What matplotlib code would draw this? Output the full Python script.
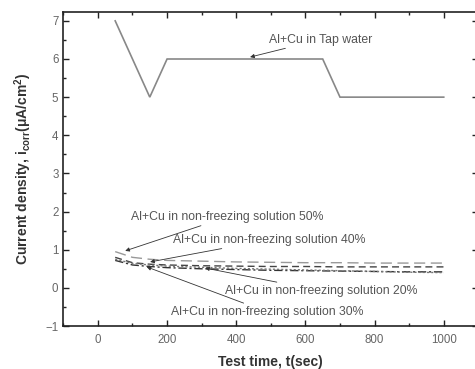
import matplotlib
matplotlib.use("Agg")
import matplotlib.pyplot as plt
from matplotlib.ticker import MultipleLocator

plt.rcParams['font.family'] = ['Liberation Sans', 'DejaVu Sans']

# Data
t_tap = [50, 150, 200, 650, 700, 1000]
i_tap = [7.0, 5.0, 6.0, 6.0, 5.0, 5.0]

t_nf = [50, 100, 150, 200, 300, 400, 500, 600, 700, 800, 900, 1000]
i_50 = [0.95, 0.80, 0.75, 0.72, 0.70, 0.68, 0.67, 0.66, 0.66, 0.65, 0.65, 0.65]
i_40 = [0.80, 0.66, 0.62, 0.60, 0.58, 0.57, 0.56, 0.56, 0.55, 0.55, 0.55, 0.55]
i_30 = [0.72, 0.60, 0.56, 0.53, 0.50, 0.48, 0.46, 0.45, 0.44, 0.43, 0.42, 0.42]
i_20 = [0.75, 0.64, 0.60, 0.57, 0.54, 0.51, 0.49, 0.47, 0.45, 0.43, 0.41, 0.40]

fig = plt.figure(figsize=(4.75, 3.69), dpi=100)
ax = fig.add_axes([0.1333, 0.1165, 0.8737, 0.8518])

ax.plot(t_tap, i_tap, color='#888888', lw=1.2, solid_joinstyle='miter')
ax.plot(t_nf, i_50, color='#999999', lw=1.0, dashes=(8, 4))
ax.plot(t_nf, i_40, color='#444444', lw=1.0, dashes=(5, 3))
ax.plot(t_nf, i_30, color='#333333', lw=1.0, dashes=(6, 2, 1.5, 2))
ax.plot(t_nf, i_20, color='#777777', lw=1.0, dashes=(1.5, 1.5))

ax.set_xlim(-100, 1100)
ax.set_ylim(-1, 7.24)
ax.xaxis.set_major_locator(MultipleLocator(200))
ax.xaxis.set_minor_locator(MultipleLocator(100))
ax.yaxis.set_major_locator(MultipleLocator(1))
ax.yaxis.set_minor_locator(MultipleLocator(0.5))
ax.tick_params(which='both', direction='in', top=True, right=True,
               colors='#222222', labelcolor='#666666', labelsize=8.3)
ax.tick_params(axis='x', which='major', pad=6)
ax.tick_params(which='major', length=4, width=1)
ax.tick_params(which='minor', length=2.5, width=1)
for s in ax.spines.values():
    s.set_linewidth(1.2)
    s.set_color('#222222')

ax.set_xlabel('Test time, t(sec)', fontsize=10, fontweight='bold', color='#333333', labelpad=6)
ax.set_ylabel('Current density, i$_{\\mathregular{corr}}$(μA/cm$^{\\mathregular{2}}$)',
              fontsize=10, fontweight='bold', color='#333333', labelpad=8)

ann = dict(fontsize=8.8, color='#555555')
arrow = dict(arrowstyle='-|>', color='#333333', lw=0.6, mutation_scale=6, shrinkA=0, shrinkB=0)
ax.annotate('Al+Cu in Tap water', xy=(440, 6.05), xytext=(495, 6.51),
            va='center', ha='left', arrowprops=arrow, **ann)
ax.annotate('Al+Cu in non-freezing solution 50%', xy=(79, 0.97), xytext=(96, 1.86),
            va='center', ha='left', arrowprops=arrow, **ann)
ax.annotate('Al+Cu in non-freezing solution 40%', xy=(151, 0.68), xytext=(216, 1.26),
            va='center', ha='left', arrowprops=arrow, **ann)
ax.annotate('Al+Cu in non-freezing solution 20%', xy=(310, 0.52), xytext=(368, -0.08),
            va='center', ha='left', arrowprops=arrow, **ann)
ax.annotate('Al+Cu in non-freezing solution 30%', xy=(141, 0.55), xytext=(211, -0.63),
            va='center', ha='left', arrowprops=arrow, **ann)

fig.savefig('out.png', dpi=100)
